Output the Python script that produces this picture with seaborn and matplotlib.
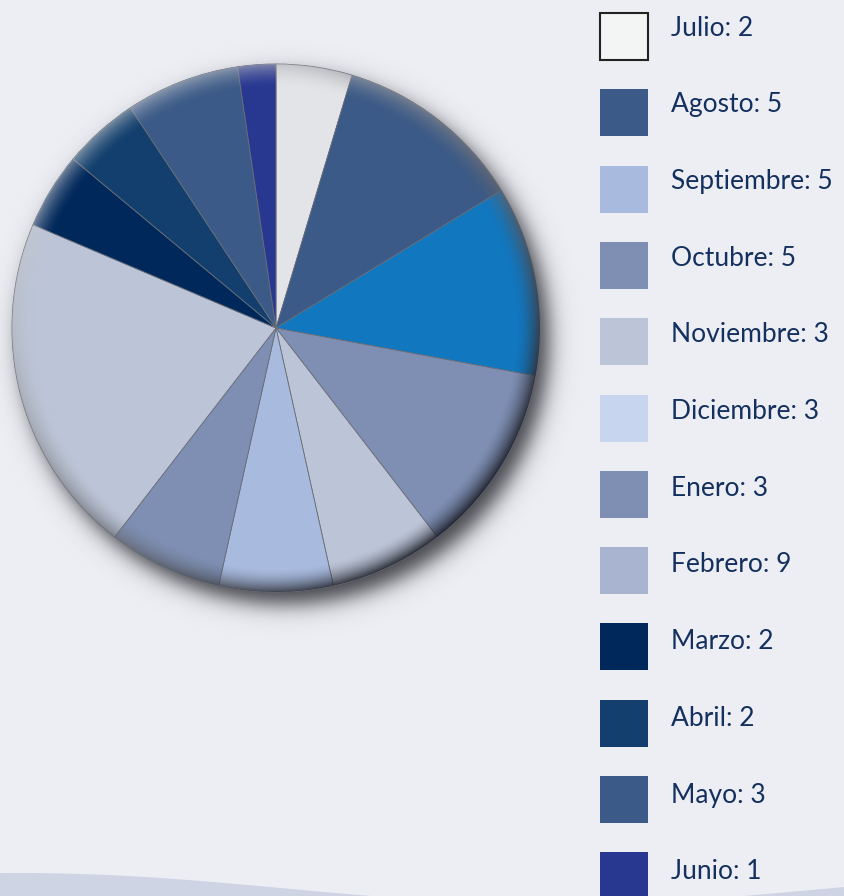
import numpy as np
import matplotlib
matplotlib.use("Agg")
import matplotlib.pyplot as plt
from matplotlib.patches import Rectangle
import seaborn as sns

# datos (orden horario desde arriba)
meses = ["Julio", "Agosto", "Septiembre", "Octubre", "Noviembre", "Diciembre",
         "Enero", "Febrero", "Marzo", "Abril", "Mayo", "Junio"]
valores = [2, 5, 5, 5, 3, 3, 3, 9, 2, 2, 3, 1]
colores_pie = ["#e3e4e7", "#3b5a87", "#1177bf", "#7e8fb3", "#bcc5d7", "#a8bbdf",
               "#7e8fb3", "#bcc5d7", "#00285b", "#123f6d", "#3b5a87", "#283891"]
colores_leyenda = ["#f3f4f4", "#3b5a87", "#a8bbdf", "#7e8fb3", "#bcc5d7", "#c8d5ee",
                   "#7e8fb3", "#a8b4d0", "#00285b", "#123f6d", "#3b5a87", "#283891"]

FONDO = "#edeef4"
W, H = 844, 896
CX, CY, R = 276, 328, 264   # centro y radio del pastel en pixeles (y hacia abajo)

sns.set_theme(style="white", rc={"figure.facecolor": FONDO, "axes.facecolor": FONDO})
plt.rcParams["font.family"] = ["Lato", "DejaVu Sans"]

fig = plt.figure(figsize=(W / 100, H / 100), dpi=100)
ax = fig.add_axes([0, 0, 1, 1])

yy, xx = np.mgrid[0:H, 0:W] + 0.5

# onda decorativa abajo
xs = np.linspace(0, W, 400)
onda = 888.7 - 15.7 * np.cos(2 * np.pi * (xs - 20) / 1074)
ax.fill_between(xs, H - onda, 0, color="#cfd4e5", lw=0, zorder=0)

# sombra exterior
d_sh = np.hypot(xx - (CX + 9), yy - (CY + 12))
sombra = np.zeros((H, W, 4))
sombra[..., :3] = (0.2, 0.2, 0.23)
sombra[..., 3] = 0.92 / (1 + np.exp((d_sh - R) / 6.5))
ax.imshow(sombra, extent=[0, W, 0, H], origin="upper", zorder=1, interpolation="bilinear")

# pastel
ax.pie(valores, colors=colores_pie, startangle=90, counterclock=False,
       center=(CX, H - CY), radius=R, frame=False,
       wedgeprops=dict(edgecolor="#6b6f78", linewidth=0.6, zorder=2))

# borde biselado
d = np.hypot(xx - CX, yy - CY)
dn = np.maximum(d, 1)
s = np.clip(((xx - CX) / dn + (yy - CY) / dn) / np.sqrt(2) * 0.5 + 0.5, 0, 1)
t = np.clip((d - (R - 24)) / 24, 0, 1)
claro = np.array([0.80, 0.81, 0.83])
oscuro = np.array([0.12, 0.13, 0.17])
borde = np.zeros((H, W, 4))
borde[..., :3] = claro * (1 - s[..., None]) + oscuro * s[..., None]
borde[..., 3] = t ** 1.7 * (0.55 + 0.4 * s) * np.clip(R - d + 0.5, 0, 1)
ax.imshow(borde, extent=[0, W, 0, H], origin="upper", zorder=3, interpolation="bilinear")

# leyenda
for i, (m, v, c) in enumerate(zip(meses, valores, colores_leyenda)):
    yc = 36.5 + i * 76.3
    yt = 25.5 + i * 76.7
    primero = i == 0
    ax.add_patch(Rectangle((600, H - yc - 23.5), 48, 47, facecolor=c,
                           edgecolor="#222222" if primero else "none",
                           lw=1.5 if primero else 0, zorder=4))
    ax.text(671, H - (yt + 10), f"{m}: {v}", fontsize=19, color="#14305e",
            va="baseline", ha="left", zorder=4)

ax.set_xlim(0, W)
ax.set_ylim(0, H)
ax.set_aspect("auto")
ax.set_axis_off()

fig.savefig("out.png", dpi=100, facecolor=FONDO)
